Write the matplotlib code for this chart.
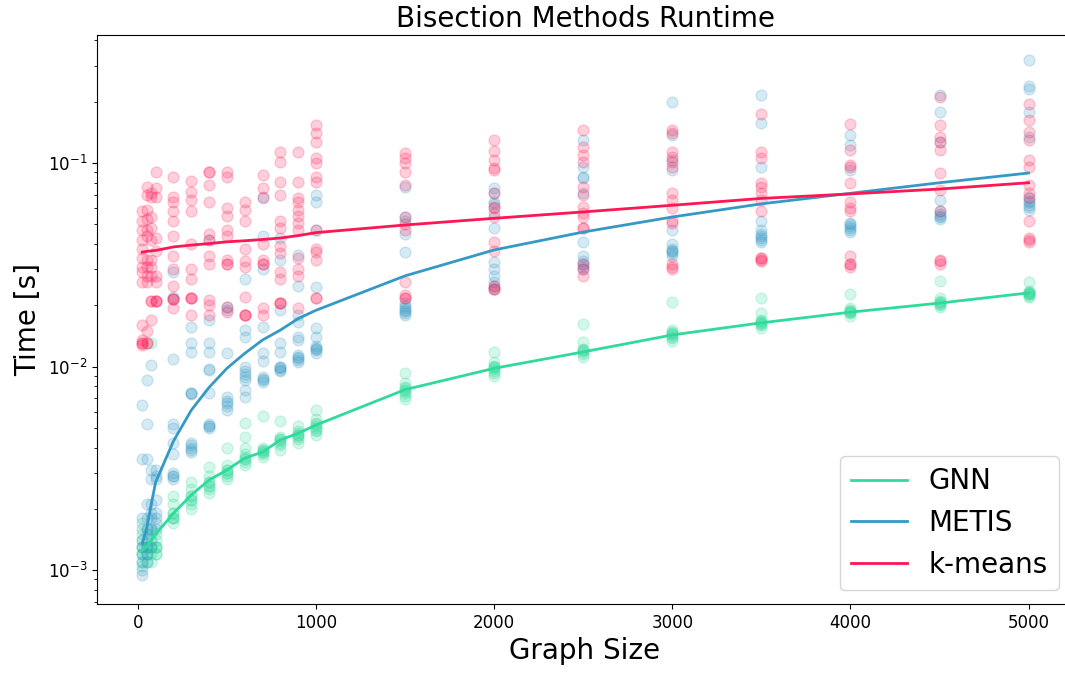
import numpy as np
import matplotlib.pyplot as plt

sizes = [25, 50, 75, 100, 200, 300, 400, 500, 600, 700, 800, 900, 1000,
         1500, 2000, 2500, 3000, 3500, 4000, 4500, 5000]

# measured runtimes per graph size
gnn_pts = [
    [0.0017, 0.0015, 0.0014, 0.0013, 0.0013, 0.0012, 0.0012, 0.0011, 0.00105],
    [0.0016, 0.0014, 0.0013, 0.0013, 0.0012, 0.0012, 0.0011],
    [0.0016, 0.0015, 0.0013, 0.0013, 0.0012, 0.0011, 0.013],
    [0.0015, 0.0014, 0.0013, 0.0013, 0.0013, 0.0012, 0.0012],
    [0.0023, 0.0021, 0.0019, 0.0019, 0.0018, 0.0018, 0.0018, 0.0017],
    [0.0027, 0.0025, 0.0023, 0.0023, 0.0022, 0.0022, 0.0021, 0.0020],
    [0.0032, 0.0029, 0.0027, 0.0027, 0.0026, 0.0026, 0.0025, 0.0024],
    [0.0040, 0.0033, 0.0031, 0.0031, 0.0030, 0.0030, 0.0029, 0.0028],
    [0.0053, 0.0045, 0.0040, 0.0037, 0.0036, 0.0035, 0.0035, 0.0034, 0.0033],
    [0.0057, 0.0040, 0.0039, 0.0039, 0.0038, 0.0038, 0.0037, 0.0036],
    [0.0054, 0.0045, 0.0044, 0.0044, 0.0043, 0.0042, 0.0041, 0.0039],
    [0.0051, 0.0048, 0.0047, 0.0046, 0.0046, 0.0045, 0.0044, 0.0042],
    [0.0061, 0.0055, 0.0053, 0.0052, 0.0051, 0.0050, 0.0049, 0.0048, 0.0046],
    [0.0093, 0.0083, 0.0079, 0.0078, 0.0077, 0.0076, 0.0074, 0.0072, 0.0069],
    [0.0118, 0.0105, 0.0101, 0.0100, 0.0099, 0.0097, 0.0095, 0.0093, 0.0090],
    [0.0162, 0.0132, 0.0122, 0.0121, 0.0120, 0.0118, 0.0115, 0.0112],
    [0.0208, 0.0152, 0.0147, 0.0146, 0.0144, 0.0143, 0.0140, 0.0138, 0.0134],
    [0.0216, 0.0184, 0.0170, 0.0167, 0.0165, 0.0164, 0.0162, 0.0160, 0.0155],
    [0.0228, 0.0194, 0.0189, 0.0188, 0.0186, 0.0185, 0.0183, 0.0178],
    [0.0263, 0.0216, 0.0210, 0.0208, 0.0205, 0.0203, 0.0200, 0.0196],
    [0.0260, 0.0236, 0.0233, 0.0231, 0.0230, 0.0228, 0.0226, 0.0222, 0.0220],
]

metis_pts = [
    [0.0065, 0.0035, 0.0018, 0.0016, 0.0014, 0.0013, 0.0012, 0.0011, 0.0010,
     0.00095],
    [0.0086, 0.0052, 0.0035, 0.0021, 0.0018, 0.0016, 0.0015, 0.0013, 0.0012,
     0.0011],
    [0.0102, 0.0031, 0.0028, 0.0021, 0.0019, 0.0018, 0.0016, 0.0014, 0.0013],
    [0.0031, 0.0029, 0.0028, 0.0022, 0.0019, 0.0018, 0.0017, 0.0016],
    [0.029, 0.022, 0.0109, 0.0052, 0.0050, 0.0042, 0.0037, 0.0030, 0.0029,
     0.0029, 0.0028],
    [0.0156, 0.0131, 0.0118, 0.0074, 0.0074, 0.0073, 0.0042, 0.0041, 0.0040,
     0.0039, 0.0038],
    [0.042, 0.017, 0.0131, 0.0118, 0.0097, 0.0096, 0.0074, 0.0052, 0.0051,
     0.0051, 0.0050],
    [0.0196, 0.0189, 0.0117, 0.0071, 0.0068, 0.0066, 0.0064, 0.0061],
    [0.027, 0.0151, 0.0140, 0.0099, 0.0095, 0.0092, 0.0089, 0.0086, 0.0077,
     0.0071],
    [0.067, 0.044, 0.030, 0.0156, 0.0117, 0.0106, 0.0089, 0.0087, 0.0086,
     0.0084],
    [0.043, 0.0335, 0.019, 0.0131, 0.0118, 0.0100, 0.0099, 0.0098, 0.0096,
     0.0095],
    [0.0354, 0.025, 0.018, 0.0165, 0.0140, 0.0135, 0.0114, 0.0112, 0.0110,
     0.0108, 0.0105],
    [0.070, 0.064, 0.047, 0.0246, 0.0155, 0.0140, 0.0126, 0.0124, 0.0122,
     0.0120, 0.0117],
    [0.076, 0.054, 0.052, 0.045, 0.0365, 0.0205, 0.0198, 0.0195, 0.0190,
     0.0188, 0.0184, 0.0180],
    [0.075, 0.071, 0.064, 0.063, 0.057, 0.048, 0.0326, 0.030, 0.028, 0.026,
     0.025, 0.024],
    [0.130, 0.096, 0.085, 0.084, 0.071, 0.041, 0.035, 0.033, 0.032, 0.031,
     0.030],
    [0.200, 0.137, 0.103, 0.092, 0.047, 0.040, 0.038, 0.037, 0.037, 0.036,
     0.035],
    [0.216, 0.157, 0.096, 0.052, 0.047, 0.045, 0.044, 0.043, 0.042, 0.041],
    [0.137, 0.123, 0.092, 0.051, 0.050, 0.049, 0.048, 0.047, 0.046],
    [0.216, 0.178, 0.127, 0.066, 0.058, 0.056, 0.055, 0.054, 0.053],
    [0.320, 0.240, 0.230, 0.178, 0.134, 0.068, 0.065, 0.064, 0.062, 0.061,
     0.059],
]

kmeans_pts = [
    [0.058, 0.052, 0.047, 0.042, 0.038, 0.034, 0.031, 0.029, 0.026, 0.016,
     0.0135, 0.013, 0.013, 0.0128],
    [0.076, 0.070, 0.059, 0.053, 0.047, 0.044, 0.0335, 0.031, 0.028, 0.026,
     0.015, 0.013, 0.013],
    [0.071, 0.068, 0.054, 0.048, 0.042, 0.0335, 0.031, 0.028, 0.021, 0.021,
     0.017],
    [0.090, 0.075, 0.068, 0.043, 0.037, 0.028, 0.026, 0.021, 0.021, 0.021],
    [0.085, 0.068, 0.064, 0.058, 0.052, 0.044, 0.035, 0.030, 0.025, 0.0215,
     0.0215, 0.0215, 0.0195],
    [0.082, 0.072, 0.066, 0.058, 0.040, 0.030, 0.027, 0.0217, 0.0217, 0.0217,
     0.018],
    [0.090, 0.090, 0.078, 0.064, 0.045, 0.042, 0.035, 0.032, 0.0213, 0.020,
     0.018],
    [0.090, 0.085, 0.060, 0.055, 0.047, 0.044, 0.0335, 0.032, 0.032, 0.0196,
     0.0185],
    [0.064, 0.059, 0.052, 0.038, 0.033, 0.031, 0.022, 0.018, 0.018, 0.018],
    [0.087, 0.075, 0.068, 0.040, 0.0335, 0.032, 0.032, 0.0195, 0.018],
    [0.113, 0.101, 0.081, 0.070, 0.052, 0.048, 0.039, 0.036, 0.029, 0.027,
     0.0206, 0.0206, 0.0206],
    [0.113, 0.081, 0.067, 0.064, 0.059, 0.055, 0.051, 0.047, 0.034, 0.030,
     0.028, 0.0195],
    [0.154, 0.140, 0.127, 0.106, 0.100, 0.085, 0.081, 0.047, 0.038, 0.0365,
     0.0335, 0.0217, 0.0217],
    [0.112, 0.106, 0.100, 0.090, 0.078, 0.054, 0.050, 0.047, 0.026, 0.0225,
     0.0217, 0.0217],
    [0.130, 0.115, 0.103, 0.094, 0.092, 0.071, 0.061, 0.060, 0.054, 0.041,
     0.037, 0.025, 0.024, 0.024],
    [0.145, 0.120, 0.110, 0.101, 0.076, 0.070, 0.061, 0.057, 0.054, 0.048,
     0.048, 0.032, 0.030, 0.028],
    [0.145, 0.140, 0.113, 0.107, 0.101, 0.096, 0.071, 0.066, 0.060, 0.052,
     0.051, 0.032, 0.031, 0.030],
    [0.174, 0.113, 0.106, 0.080, 0.076, 0.071, 0.066, 0.058, 0.0335, 0.033,
     0.034, 0.034],
    [0.155, 0.116, 0.098, 0.096, 0.080, 0.064, 0.060, 0.058, 0.035, 0.032,
     0.032, 0.031],
    [0.210, 0.154, 0.134, 0.127, 0.116, 0.089, 0.074, 0.058, 0.0335, 0.033,
     0.032],
    [0.195, 0.163, 0.142, 0.130, 0.103, 0.096, 0.078, 0.071, 0.067, 0.052,
     0.043, 0.042, 0.041],
]

# average curves
gnn_line = [0.00125, 0.0013, 0.0014, 0.0015, 0.0019, 0.00234, 0.00277, 0.0031,
            0.00355, 0.0038, 0.00436, 0.0047, 0.00516, 0.0077, 0.0098, 0.0118,
            0.0143, 0.0164, 0.0185, 0.0205, 0.0230]
metis_line = [0.00135, 0.0016, 0.0021, 0.0027, 0.0043, 0.0061, 0.0079, 0.0098,
              0.0116, 0.0135, 0.0151, 0.0172, 0.0189, 0.0279, 0.0374, 0.0458,
              0.0543, 0.0630, 0.0710, 0.0800, 0.0893]
kmeans_line = [0.0365, 0.0368, 0.0370, 0.0372, 0.0387, 0.0395, 0.0402, 0.0410,
               0.0415, 0.0421, 0.0428, 0.0440, 0.0455, 0.0496, 0.0535, 0.0575,
               0.0620, 0.0670, 0.0705, 0.0745, 0.0800]

labels = ['GNN', 'METIS', 'k-means']
colors = ['#2fda9a', '#3599c6', '#ff1654']

fig = plt.figure(figsize=(10.65, 6.73), dpi=100)
ax = fig.add_axes([0.0911, 0.1025, 0.9164, 0.8455])

for pts, c in zip([gnn_pts, metis_pts, kmeans_pts], colors):
    xs = np.concatenate([[s] * len(p) for s, p in zip(sizes, pts)])
    ys = np.concatenate(pts)
    ax.scatter(xs, ys, s=62, color=c, alpha=0.2)

for line, c, lab in zip([gnn_line, metis_line, kmeans_line], colors, labels):
    ax.plot(sizes, line, color=c, lw=2, label=lab)

ax.set_yscale('log')
ax.set_xlim(-229, 5249)
ax.set_ylim(6.81e-4, 0.4256)
ax.tick_params(labelsize=12)
ax.set_title('Bisection Methods Runtime', fontsize=20)
ax.set_xlabel('Graph Size', fontsize=20)
ax.set_ylabel('Time [s]', fontsize=20)
ax.legend(loc='lower right', fontsize=20)

fig.savefig('out.png', dpi=100)
